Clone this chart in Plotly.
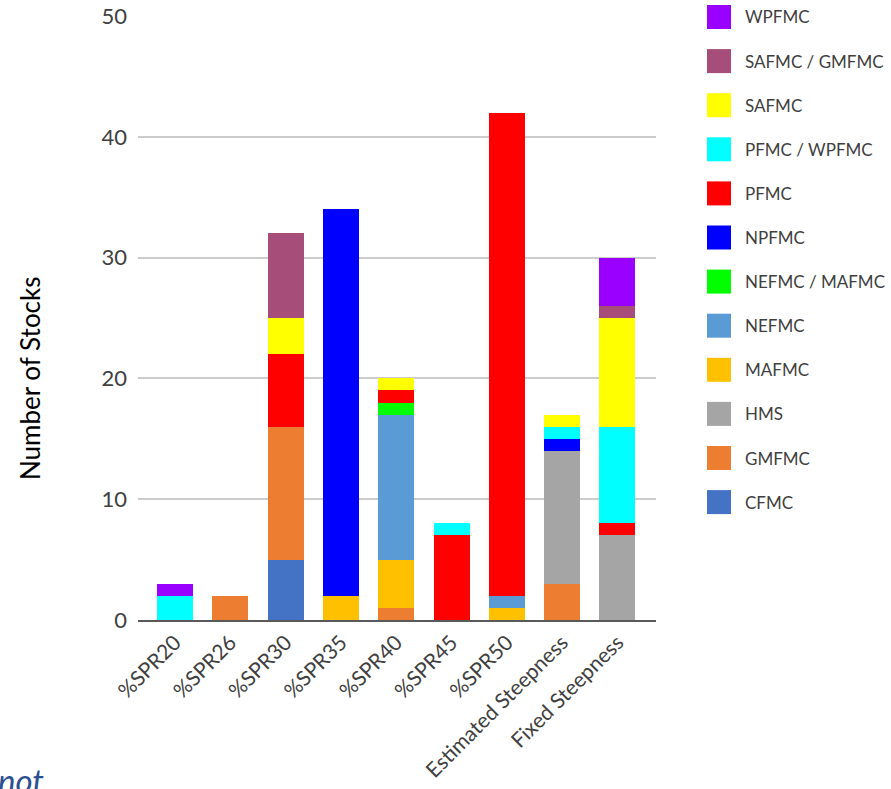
import plotly.graph_objects as go

# Reference point categories (x axis)
categories = ["%SPR20", "%SPR26", "%SPR30", "%SPR35", "%SPR40", "%SPR45",
              "%SPR50", "Estimated Steepness", "Fixed Steepness"]

# Number of stocks per council, stacked bottom to top
cfmc = [0, 0, 5, 0, 0, 0, 0, 0, 0]
gmfmc = [0, 2, 11, 0, 1, 0, 0, 3, 0]
hms = [0, 0, 0, 0, 0, 0, 0, 11, 7]
mafmc = [0, 0, 0, 2, 4, 0, 1, 0, 0]
nefmc = [0, 0, 0, 0, 12, 0, 1, 0, 0]
nefmc_mafmc = [0, 0, 0, 0, 1, 0, 0, 0, 0]
npfmc = [0, 0, 0, 32, 0, 0, 0, 1, 0]
pfmc = [0, 0, 6, 0, 1, 7, 40, 0, 1]
pfmc_wpfmc = [2, 0, 0, 0, 0, 1, 0, 1, 8]
safmc = [0, 0, 3, 0, 1, 0, 0, 1, 9]
safmc_gmfmc = [0, 0, 7, 0, 0, 0, 0, 0, 1]
wpfmc = [1, 0, 0, 0, 0, 0, 0, 0, 4]

series_names = ["CFMC", "GMFMC", "HMS", "MAFMC", "NEFMC", "NEFMC / MAFMC",
                "NPFMC", "PFMC", "PFMC / WPFMC", "SAFMC", "SAFMC / GMFMC", "WPFMC"]
series_values = [cfmc, gmfmc, hms, mafmc, nefmc, nefmc_mafmc,
                 npfmc, pfmc, pfmc_wpfmc, safmc, safmc_gmfmc, wpfmc]

y_ticks = [0, 10, 20, 30, 40, 50]

colors = ["#4472C4", "#ED7D31", "#A5A5A5", "#FFC000", "#5B9BD5", "#00FF00",
          "#0000FF", "#FF0000", "#00FFFF", "#FFFF00", "#A64D79", "#9900FF"]

FONT = "Lato"
TEXT = "#404040"

W, H = 891, 789
L, R, T, B = 138, 235, 16, 169
plot_w = W - L - R
plot_h = H - T - B

fig = go.Figure()
for name, vals, col in zip(series_names, series_values, colors):
    fig.add_trace(go.Bar(
        x=categories, y=vals, name=name,
        marker=dict(color=col, line=dict(width=0),
                    cornerradius=4 if name == "WPFMC" else 0),
        showlegend=False,
    ))

# Legend drawn as swatches + labels, top entry is the last stacked series
def px_x(p):
    return (p - L) / plot_w

def px_y(p):
    return (H - B - p) / plot_h

shapes = []
annotations = []
for i, (name, col) in enumerate(zip(series_names[::-1], colors[::-1])):
    cy = 17 + 44.1 * i
    shapes.append(dict(type="rect", xref="paper", yref="paper",
                       x0=px_x(707), x1=px_x(731), y0=px_y(cy + 12), y1=px_y(cy - 12),
                       fillcolor=col, line=dict(width=0), layer="above"))
    annotations.append(dict(text=name, xref="paper", yref="paper",
                            x=px_x(743), y=px_y(cy), xanchor="left", yanchor="middle",
                            showarrow=False, font=dict(family=FONT, size=17, color=TEXT)))

# Axis title
annotations.append(dict(text="Number of Stocks", xref="paper", yref="paper",
                        x=px_x(30), y=px_y(378), textangle=-90,
                        xanchor="center", yanchor="middle", showarrow=False,
                        font=dict(family=FONT, size=26, color="#000000")))

# Fragment of caption text at the lower-left edge
annotations.append(dict(text="<i>not</i>", xref="paper", yref="paper",
                        x=px_x(-4), y=px_y(802), xanchor="left", yanchor="bottom",
                        showarrow=False,
                        font=dict(family=FONT, size=33, color="#2B4F8F")))

fig.update_layout(
    width=W, height=H,
    margin=dict(l=L, r=R, t=T, b=B, pad=0, autoexpand=False),
    barmode="stack",
    bargap=0.349,
    plot_bgcolor="white",
    paper_bgcolor="white",
    shapes=shapes,
    annotations=annotations,
    xaxis=dict(
        range=[-0.669, 8.697],
        tickangle=-45,
        automargin=False,
        tickfont=dict(family=FONT, size=21, color=TEXT),
        showgrid=False,
        showline=True, linecolor="#595959", linewidth=2,
        ticks="",
    ),
    yaxis=dict(
        range=[0, 50],
        tickvals=y_ticks,
        automargin=False,
        ticklabelstandoff=10,
        tickfont=dict(family=FONT, size=22, color=TEXT),
        showgrid=True, gridcolor="#CCCCCC", gridwidth=1.5,
        zeroline=False,
        ticks="", ticklen=0,
        showline=False,
    ),
)

fig.write_html("out.html")
